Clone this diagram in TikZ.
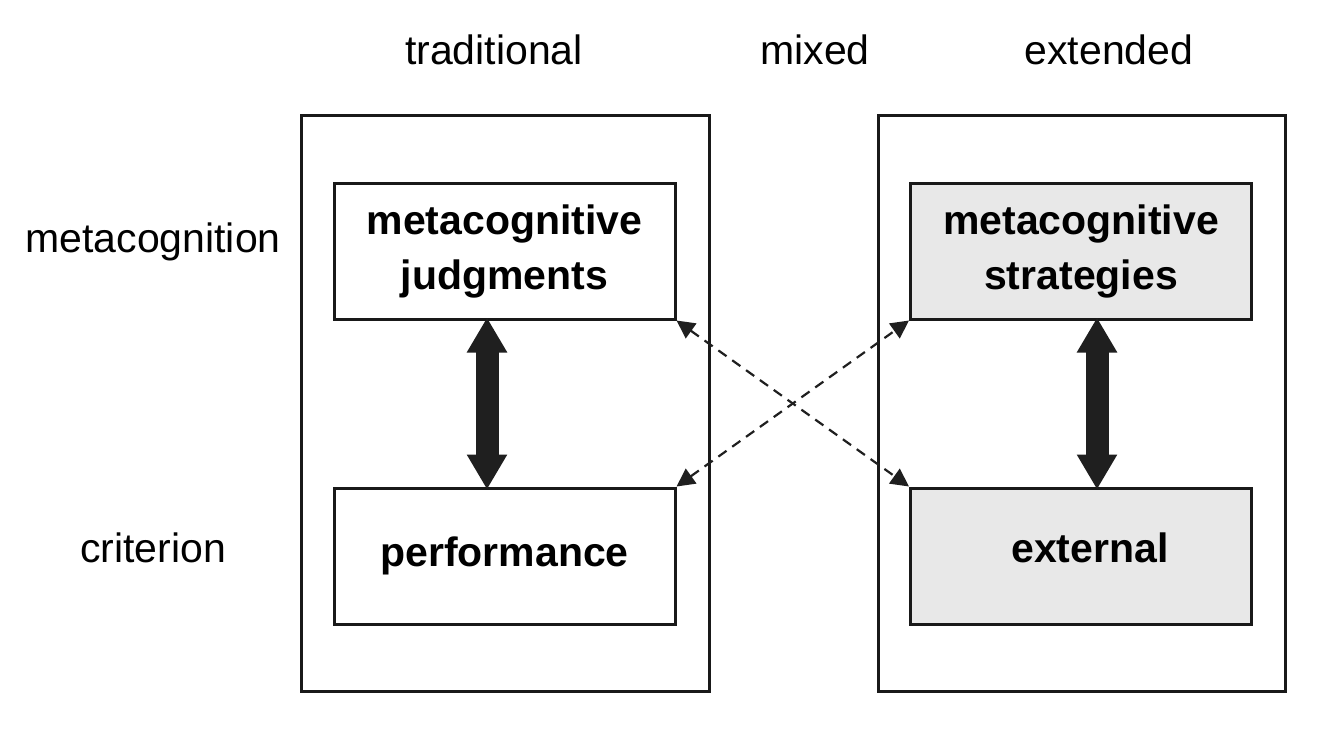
\documentclass[tikz,border=0pt]{standalone}
\usepackage{fontspec}
\setmainfont{Liberation Sans}
\usetikzlibrary{arrows.meta}
\definecolor{boxgray}{HTML}{E8E8E8}
\begin{document}
\begin{tikzpicture}[x=0.5pt,y=-0.5pt,
  lab/.style={font=\fontsize{20.5}{25}\selectfont, inner sep=0pt},
  outerbox/.style={draw=black!90, line width=1.5pt},
  innerbox/.style={draw=black!90, line width=1.5pt, minimum width=170.5pt, minimum height=68pt, inner sep=0pt, align=center, font=\fontsize{20.5}{27.5}\selectfont\bfseries},
  bigarrow/.style={line width=11.5pt, draw=black!88, shorten <=-1.5pt, shorten >=-1.5pt, {Triangle[length=17.5pt,width=19pt]}-{Triangle[length=17.5pt,width=19pt]}},
  dasharrow/.style={line width=1.1pt, draw=black!88, dash pattern=on 5pt off 3.5pt, {Triangle[length=9pt,width=9pt]}-{Triangle[length=9pt,width=9pt]}}
]
\useasboundingbox (0,0) rectangle (1331,744);
\draw[outerbox] (301,115) rectangle (709,691);
\draw[outerbox] (878,115) rectangle (1285,691);
\node[lab] (trad) at (494,50) {traditional};
\node[lab] (mixed) at (815,50) {mixed};
\node[lab] (ext) at (1109,50) {extended};
\node[lab] (meta) at (153,242) {metacognition};
\node[lab] (crit) at (153,548) {criterion};
\node[innerbox] (mj) at (504.5,251) {metacognitive\\judgments};
\node[innerbox] (perf) at (504.5,556) {performance};
\node[innerbox, fill=boxgray] (ms) at (1081,251) {metacognitive\\strategies};
\node[innerbox, fill=boxgray] (ex) at (1081,556) {\hspace*{9pt}\raisebox{8pt}{external}};
\draw[bigarrow] ([xshift=-8.75pt]mj.south) -- ([xshift=-8.75pt]perf.north);
\draw[bigarrow] ([xshift=8pt]ms.south) -- ([xshift=8pt]ex.north);
\draw[dasharrow] (mj.south east) -- (ex.north west);
\draw[dasharrow] (perf.north east) -- (ms.south west);
\end{tikzpicture}
\end{document}
